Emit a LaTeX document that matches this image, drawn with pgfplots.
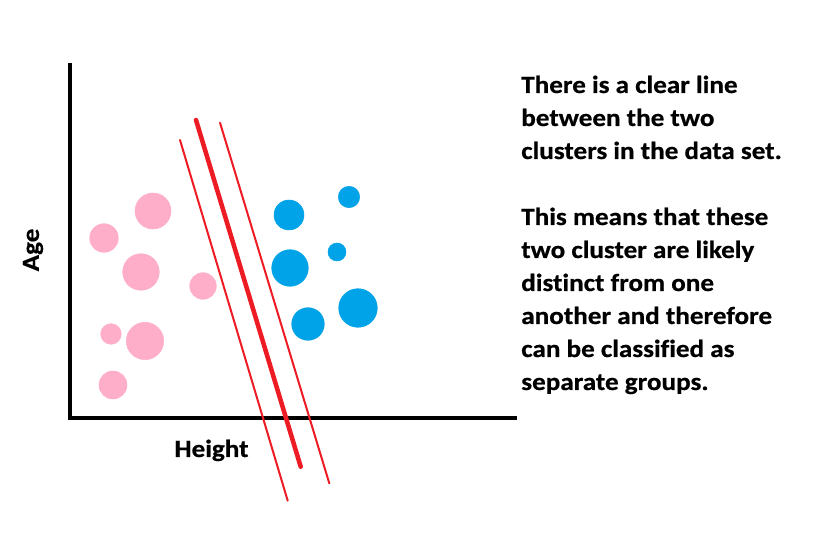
\documentclass[border=0pt]{standalone}
\usepackage{pgfplots}
\pgfplotsset{compat=1.18}
\usepackage{fontspec}
\setmainfont{Carlito}
\newfontfamily\wide[FakeStretch=1.1, FakeBold=0.6, Ligatures=NoCommon, Contextuals=NoAlternate]{Carlito}
\definecolor{pinkc}{HTML}{FFAEC9}
\definecolor{bluec}{HTML}{00A2E8}
\definecolor{redc}{HTML}{ED1C24}
\tikzset{txt/.style={font=\wide\fontsize{18.5}{22}\selectfont\bfseries, anchor=base west, inner sep=0pt}}
\begin{document}
\begin{tikzpicture}
\begin{axis}[
  scale only axis,
  width=333.75pt, height=264.75pt,
  xmin=69.7, xmax=514.7, ymin=128.7, ymax=481.7,
  axis x line=bottom, axis y line=left,
  axis line style={-, line width=3pt, line cap=rect, black},
  xtick=\empty, ytick=\empty,
  clip=false,
]
\path (axis cs:0,0) rectangle (axis cs:837,547);
% separating lines
\addplot[redc, line width=1.5pt, line cap=round] coordinates {(180,407) (287.7,46.3)};
\addplot[redc, line width=3.4pt, line cap=round] coordinates {(196,427) (300.7,80.3)};
\addplot[redc, line width=1.5pt, line cap=round] coordinates {(220,424.3) (329.3,63.7)};
% pink cluster
\addplot[scatter, only marks, mark=*,
  scatter/use mapped color={draw=pinkc, fill=pinkc},
  visualization depends on={\thisrow{r}\as\rad},
  scatter/@pre marker code/.append style={/tikz/mark size=0.75*\rad}]
  table[x=x, y=y] {
x y r
153 336 18
104 309 14.3
141 275 18.3
203 261 13.3
111 213 10.3
145 206 18.7
113 162 14
};
% blue cluster
\addplot[scatter, only marks, mark=*,
  scatter/use mapped color={draw=bluec, fill=bluec},
  visualization depends on={\thisrow{r}\as\rad},
  scatter/@pre marker code/.append style={/tikz/mark size=0.75*\rad}]
  table[x=x, y=y] {
x y r
289 332 15
349 350 10.7
290 279 18.3
337 295 9
308 223 16.3
358 239 19.3
};
\node[txt, anchor=base] at (axis cs:211.5,90) {Height};
\node[txt, rotate=90, anchor=center] at (axis cs:33,297) {Age};
\node[txt] at (axis cs:521,454) {There is a clear line};
\node[txt] at (axis cs:521,421) {between the two};
\node[txt] at (axis cs:521,388) {clusters in the data set.};
\node[txt] at (axis cs:521,322) {This means that these};
\node[txt] at (axis cs:521,289) {two cluster are likely};
\node[txt] at (axis cs:521,256) {distinct from one};
\node[txt] at (axis cs:521,223) {another and therefore};
\node[txt] at (axis cs:521,190) {can be classified as};
\node[txt] at (axis cs:521,157) {separate groups.};
\end{axis}
\end{tikzpicture}
\end{document}
